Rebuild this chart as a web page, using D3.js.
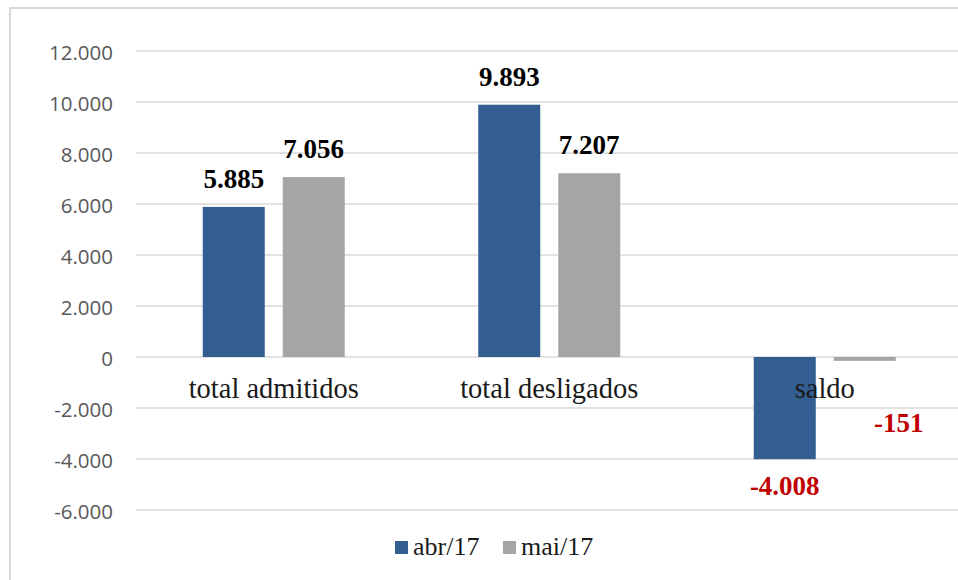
<!DOCTYPE html>
<html>
<head>
<meta charset="utf-8">
<script src="https://cdn.jsdelivr.net/npm/d3@7/dist/d3.min.js"></script>
<style>
  html, body { margin: 0; padding: 0; background: #ffffff; }
  svg { display: block; }
</style>
</head>
<body>
<svg id="chart" width="958" height="580"></svg>
<script>
const categories = ["total admitidos", "total desligados", "saldo"];
const seriesNames = ["abr/17", "mai/17"];
const abr17 = [5885, 9893, -4008];
const mai17 = [7056, 7207, -151];
const tickValues = [-6000, -4000, -2000, 0, 2000, 4000, 6000, 8000, 10000, 12000];
const colors = ["#335e91", "#a5a5a5"];

const seriesValues = [abr17, mai17];
const fmt = v => d3.format(",")(v).replace(/,/g, ".").replace(/\u2212/g, "-");

const svg = d3.select("#chart");

// chart border (cut off at right/bottom)
svg.append("rect")
  .attr("x", 10).attr("y", 8)
  .attr("width", 1000).attr("height", 700)
  .attr("fill", "none").attr("stroke", "#d9d9d9").attr("stroke-width", 2);

const plotLeft = 136, plotRight = 962.5, plotTop = 51, plotBottom = 510;

const y = d3.scaleLinear().domain([-6000, 12000]).range([plotBottom, plotTop]);
const x0 = d3.scaleBand().domain(categories).range([plotLeft, plotRight])
  .paddingInner(0.4846).paddingOuter(0.2423);
const x1 = d3.scaleBand().domain(seriesNames).range([0, x0.bandwidth()])
  .paddingInner(0.225).paddingOuter(0);

// gridlines
svg.append("g").selectAll("line").data(tickValues).join("line")
  .attr("x1", plotLeft).attr("x2", 958)
  .attr("y1", d => y(d)).attr("y2", d => y(d))
  .attr("stroke", "#d9d9d9").attr("stroke-width", 1.5);

// y axis labels
const yAxis = d3.axisLeft(y).tickValues(tickValues).tickSize(0).tickPadding(0)
  .tickFormat(fmt);
const gy = svg.append("g").attr("transform", `translate(113,0)`).call(yAxis);
gy.select(".domain").remove();
gy.selectAll("text")
  .attr("font-family", "'Open Sans', sans-serif")
  .attr("font-size", 20.5)
  .attr("fill", "#595959")
  .attr("dy", "0.4em");

// data rows
const rows = [];
categories.forEach((c, i) => {
  seriesNames.forEach((s, j) => {
    rows.push({ cat: c, series: s, value: seriesValues[j][i], j });
  });
});

// bars
svg.append("g").selectAll("rect").data(rows).join("rect")
  .attr("x", d => x0(d.cat) + x1(d.series))
  .attr("width", x1.bandwidth())
  .attr("y", d => y(Math.max(0, d.value)))
  .attr("height", d => Math.abs(y(d.value) - y(0)))
  .attr("fill", d => colors[d.j]);

// category labels
svg.append("g").selectAll("text").data(categories).join("text")
  .attr("x", d => x0(d) + x0.bandwidth() / 2)
  .attr("y", y(0) + 41)
  .attr("text-anchor", "middle")
  .attr("font-family", "'Liberation Serif', 'Times New Roman', serif")
  .attr("font-size", 28.5)
  .attr("fill", "#1a1a1a")
  .text(d => d);

// value labels
svg.append("g").selectAll("text").data(rows).join("text")
  .attr("x", d => {
    const cx = x0(d.cat) + x1(d.series) + x1.bandwidth() / 2;
    // tiny negative bar: label nudged right of its bar
    return (d.value < 0 && Math.abs(y(d.value) - y(0)) < 20) ? cx + 34 : cx;
  })
  .attr("y", d => d.value >= 0
      ? y(d.value) - 19
      : Math.max(y(d.value) + 36, y(0) + 75))
  .attr("text-anchor", "middle")
  .attr("font-family", "'Liberation Serif', 'Times New Roman', serif")
  .attr("font-weight", "bold")
  .attr("font-size", 27)
  .attr("fill", d => d.value < 0 ? "#c00000" : "#000000")
  .text(d => fmt(d.value));

// legend
const legend = svg.append("g");
const legendX = [395, 503];
seriesNames.forEach((s, j) => {
  legend.append("rect")
    .attr("x", legendX[j]).attr("y", 541)
    .attr("width", 13).attr("height", 13)
    .attr("fill", colors[j]);
  legend.append("text")
    .attr("x", legendX[j] + 18).attr("y", 555)
    .attr("font-family", "'Liberation Serif', 'Times New Roman', serif")
    .attr("font-size", 26)
    .attr("fill", "#1a1a1a")
    .text(s);
});
</script>
</body>
</html>
